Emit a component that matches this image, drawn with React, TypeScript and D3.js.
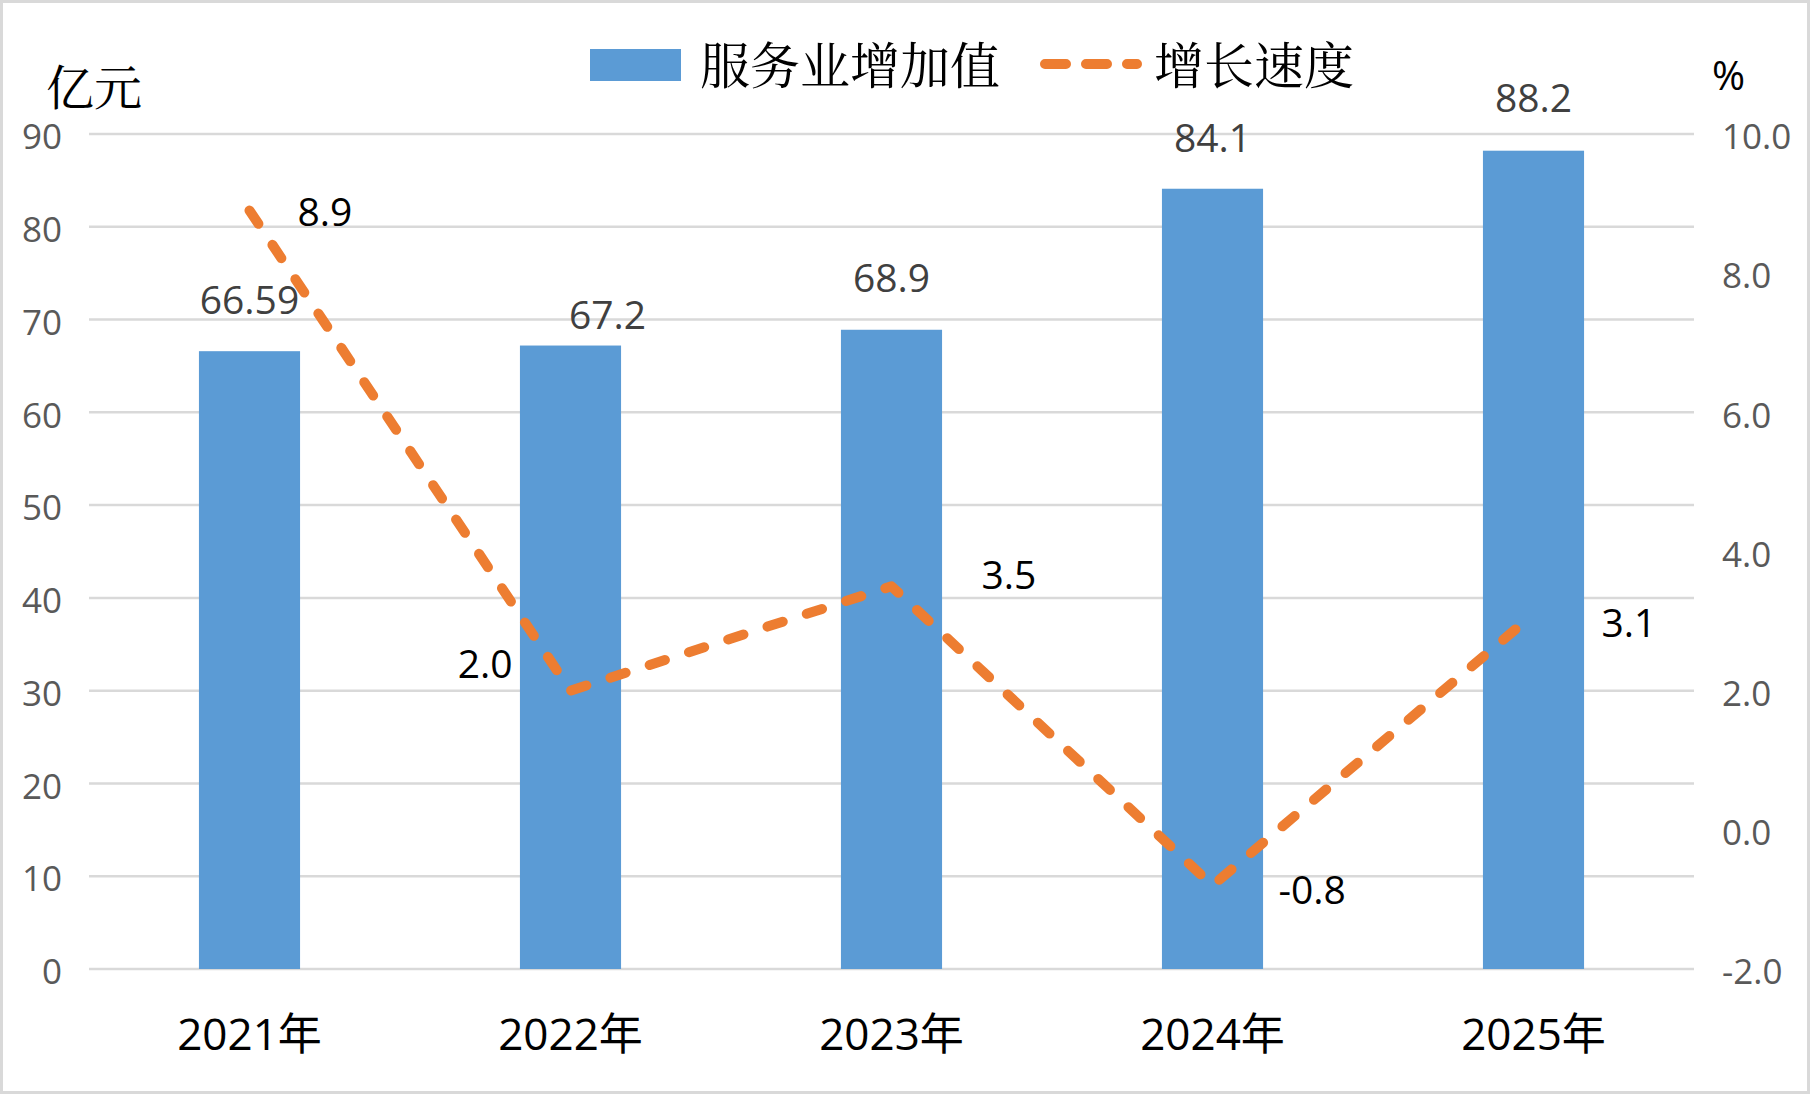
import React from "react";
import * as d3 from "d3";

// chart values
const years = ["2021年", "2022年", "2023年", "2024年", "2025年"];
const serviceValue = [66.59, 67.2, 68.9, 84.1, 88.2];
const growthRate = [8.9, 2.0, 3.5, -0.8, 3.1];
const leftTicks = [0, 10, 20, 30, 40, 50, 60, 70, 80, 90];
const rightTicks = [-2, 0, 2, 4, 6, 8, 10];

// hand-placed label nudges (as in the original chart)
const barLabelNudge: [number, number][] = [[0, -51], [37, -30], [0, -51], [0, -50], [0, -52]];
const rateLabelNudge: [number, number, string][] = [
  [48, 2, "start"],
  [-58, -26, "end"],
  [90, -11, "start"],
  [66, 5, "start"],
  [68, 9, "start"],
];

const W = 1814;
const H = 1096;
const NUM_FONT = "'Open Sans', 'Noto Sans CJK SC', sans-serif";
const CJK_FONT = "'Noto Serif CJK SC', 'Noto Sans CJK SC', 'Open Sans', sans-serif";
const BAR = "#5B9BD5";
const LINE = "#ED7D31";
const GRID = "#D9D9D9";

export default function App() {
  const x = d3.scaleBand<string>().domain(years).range([89, 1694]).padding(0);
  const yLeft = d3.scaleLinear().domain([0, 90]).range([969, 134]);
  const yRight = d3.scaleLinear().domain([-2, 10]).range([969, 134]);
  const cx = (i: number) => (x(years[i]) ?? 0) + x.step() / 2;
  const barW = x.step() * 0.315;

  const line = d3
    .line<number>()
    .x((_, i) => cx(i))
    .y((d) => yRight(d));

  return (
    <svg
      width={W}
      height={H}
      style={{ position: "absolute", left: 0, top: 0, background: "#fff" }}
    >
      <rect x={1.5} y={1.5} width={W - 7} height={H - 5} fill="#fff" stroke={GRID} strokeWidth={3} />

      {/* gridlines */}
      {leftTicks.map((t) => (
        <line key={t} x1={89} x2={1694} y1={yLeft(t)} y2={yLeft(t)} stroke={GRID} strokeWidth={2.5} />
      ))}

      {/* left axis */}
      {leftTicks.map((t) => (
        <text
          key={"l" + t}
          x={62}
          y={yLeft(t) + 3}
          dy="0.35em"
          textAnchor="end"
          fontFamily={NUM_FONT}
          fontSize={35}
          fill="#595959"
        >
          {t}
        </text>
      ))}
      {/* right axis */}
      {rightTicks.map((t) => (
        <text
          key={"r" + t}
          x={1722}
          y={yRight(t) + 3}
          dy="0.35em"
          textAnchor="start"
          fontFamily={NUM_FONT}
          fontSize={35}
          fill="#595959"
        >
          {t.toFixed(1)}
        </text>
      ))}

      <text x={46} y={105} fontFamily={CJK_FONT} fontSize={48} fill="#000">
        亿元
      </text>
      <text x={1712} y={90} fontFamily={NUM_FONT} fontSize={40} fill="#000">
        %
      </text>

      {/* bars */}
      {serviceValue.map((v, i) => (
        <rect
          key={"b" + i}
          x={cx(i) - barW / 2}
          y={yLeft(v)}
          width={barW}
          height={yLeft(0) - yLeft(v)}
          fill={BAR}
        />
      ))}

      {/* growth line */}
      <path
        d={line(growthRate) ?? ""}
        fill="none"
        stroke={LINE}
        strokeWidth={10}
        strokeDasharray="16 25.3"
        strokeLinecap="round"
        strokeLinejoin="round"
      />

      {/* bar labels */}
      {serviceValue.map((v, i) => (
        <text
          key={"bl" + i}
          x={cx(i) + barLabelNudge[i][0]}
          y={yLeft(v) + barLabelNudge[i][1]}
          dy="0.35em"
          textAnchor="middle"
          fontFamily={NUM_FONT}
          fontSize={39}
          fill="#404040"
        >
          {String(v)}
        </text>
      ))}

      {/* rate labels */}
      {growthRate.map((v, i) => (
        <text
          key={"rl" + i}
          x={cx(i) + rateLabelNudge[i][0]}
          y={yRight(v) + rateLabelNudge[i][1]}
          dy="0.35em"
          textAnchor={rateLabelNudge[i][2]}
          fontFamily={NUM_FONT}
          fontSize={39}
          fill="#000"
        >
          {v.toFixed(1)}
        </text>
      ))}

      {/* x labels */}
      {years.map((y, i) => (
        <text
          key={"x" + i}
          x={cx(i)}
          y={1050}
          textAnchor="middle"
          fontFamily={NUM_FONT}
          fontSize={44}
          fill="#000"
        >
          {y}
        </text>
      ))}

      {/* legend */}
      <rect x={590} y={49} width={91} height={32} fill={BAR} />
      <text x={700} y={84} fontFamily={CJK_FONT} fontSize={50} fill="#000">
        服务业增加值
      </text>
      <line
        x1={1045}
        x2={1137}
        y1={64}
        y2={64}
        stroke={LINE}
        strokeWidth={10}
        strokeDasharray="21 20"
        strokeLinecap="round"
      />
      <text x={1154} y={84} fontFamily={CJK_FONT} fontSize={50} fill="#000">
        增长速度
      </text>
    </svg>
  );
}
